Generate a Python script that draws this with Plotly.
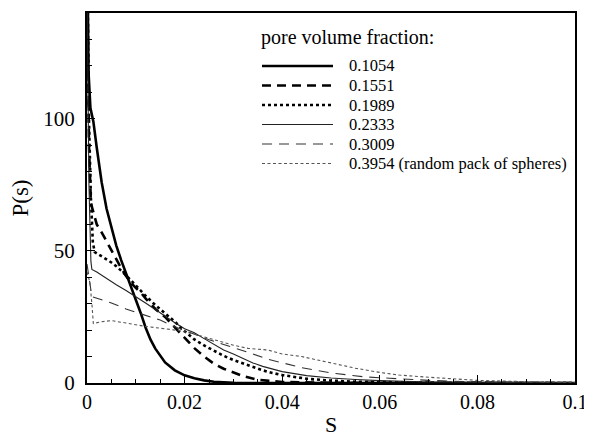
import plotly.graph_objects as go

# ---- data ----
labels = ["0.1054", "0.1551", "0.1989", "0.2333", "0.3009", "0.3954 (random pack of spheres)"]
legend_title = "pore volume fraction:"

s1 = [0, 0.0003, 0.0007, 0.0013, 0.002, 0.003, 0.004, 0.005, 0.006, 0.007, 0.008, 0.009, 0.010,
      0.011, 0.012, 0.013, 0.014, 0.015, 0.016, 0.018, 0.020, 0.022, 0.024, 0.026, 0.028, 0.030,
      0.034, 0.040, 0.060, 0.080, 0.100]
p1 = [175, 118, 104, 99, 89, 76, 66, 58.5, 52, 46.5, 41.5, 36.5, 32.3,
      26.5, 21, 16.5, 13, 10.2, 7.8, 4.8, 2.9, 1.8, 1.0, 0.5, 0.2, 0.08,
      0.02, 0, 0, 0, 0]

s2 = [0, 0.0004, 0.0008, 0.002, 0.003, 0.004, 0.005, 0.006, 0.007, 0.008, 0.009, 0.010, 0.011,
      0.012, 0.013, 0.014, 0.015, 0.016, 0.017, 0.018, 0.019, 0.020, 0.022, 0.024, 0.026, 0.028,
      0.030, 0.032, 0.035, 0.040, 0.050, 0.070, 0.100]
p2 = [170, 90, 68, 60, 57, 53.5, 50, 47, 43.5, 40.5, 38, 36, 34.3,
      32, 30, 28, 26.5, 25, 23, 21, 19, 17, 13.2, 10, 7.3, 5.4,
      3.9, 2.6, 1.2, 0.4, 0.1, 0, 0]

s3 = [0, 0.0004, 0.0008, 0.0012, 0.0016, 0.002, 0.003, 0.004, 0.005, 0.006, 0.008, 0.010, 0.012,
      0.014, 0.016, 0.018, 0.020, 0.022, 0.024, 0.026, 0.028, 0.030, 0.032, 0.034, 0.036, 0.038,
      0.040, 0.045, 0.050, 0.055, 0.060, 0.070, 0.080, 0.100]
p3 = [170, 100, 70, 53, 49.5, 49, 48, 46.8, 45.6, 44.2, 40.8, 36.8, 33,
      29.5, 26.3, 23.2, 19.6, 16.5, 14.2, 12.2, 10.3, 8.7, 7.4, 6.0, 4.8, 3.8,
      3.0, 1.6, 0.9, 0.5, 0.3, 0.1, 0.05, 0]

s4 = [0, 0.0004, 0.0008, 0.001, 0.002, 0.004, 0.006, 0.008, 0.010, 0.012, 0.014, 0.016, 0.018,
      0.020, 0.022, 0.024, 0.026, 0.028, 0.030, 0.032, 0.034, 0.036, 0.038, 0.040, 0.045, 0.050,
      0.055, 0.060, 0.070, 0.080, 0.100]
p4 = [150, 75, 46, 43, 42, 39.5, 37.2, 35, 32.8, 30.3, 27.8, 25.2, 22.8,
      20.5, 19.0, 16.8, 14.5, 12.5, 11.0, 9.2, 7.6, 6.3, 5.2, 4.3, 2.8, 1.9,
      1.3, 0.9, 0.4, 0.2, 0.05]

s5 = [0, 0.0004, 0.0008, 0.001, 0.003, 0.005, 0.008, 0.011, 0.015, 0.019, 0.022, 0.025, 0.028,
      0.031, 0.034, 0.037, 0.040, 0.044, 0.050, 0.057, 0.062, 0.070, 0.080, 0.090, 0.100]
p5 = [45, 40, 34, 32.7, 31.5, 30.3, 28, 26.2, 23.8, 20.5, 18.3, 16.4, 14.6,
      12.9, 11, 9, 7.6, 5.8, 3.8, 2.3, 1.8, 1.0, 0.4, 0.2, 0.1]

s6 = [0, 0.0006, 0.001, 0.0013, 0.003, 0.005, 0.008, 0.012, 0.016, 0.019, 0.022, 0.026, 0.030,
      0.033, 0.037, 0.040, 0.044, 0.050, 0.055, 0.060, 0.064, 0.069, 0.075, 0.080, 0.090, 0.100]
p6 = [42, 38, 30, 22.5, 23.2, 23.6, 22.7, 21.4, 20.5, 19.8, 18.5, 16.3, 14.3,
      13.1, 12.5, 11, 10, 7.6, 5.6, 4.0, 3.0, 2.3, 1.5, 1.0, 0.5, 0.3]

xticks = [0, 0.02, 0.04, 0.06, 0.08, 0.1]
xticktext = ["0", "0.02", "0.04", "0.06", "0.08", "0.1"]
yticks = [0, 50, 100]

series = [(s1, p1), (s2, p2), (s3, p3), (s4, p4), (s5, p5), (s6, p6)]
styles = [
    dict(color="black", width=2.6, dash="solid"),
    dict(color="black", width=2.6, dash="9px,6px"),
    dict(color="black", width=2.6, dash="3px,3px"),
    dict(color="#222", width=1.1, dash="solid"),
    dict(color="#333", width=1.1, dash="10px,7px"),
    dict(color="#555", width=1.1, dash="3px,2.5px"),
]

FONT = "Liberation Serif"
OFF = 8                       # page body margin of the browser
W, H = 592 - OFF, 437 - OFF
# plot box in window pixels: x 87..575, y 13..383
ML, MT = 87 - OFF, 13 - OFF
MR = W - (575 - OFF)
MB = H - (383 - OFF)
PW, PH = W - ML - MR, H - MT - MB


def px_to_paper(px, py):
    """window-pixel position -> paper coordinates"""
    return (px - OFF - ML) / PW, (H - MB - (py - OFF)) / PH


fig = go.Figure()
for (xs, ys), lab, st in zip(series, labels, styles):
    fig.add_trace(go.Scatter(x=xs, y=ys, mode="lines", name=lab, line=st,
                             showlegend=False))

# ---- hand-built legend (long line samples as in the reference) ----
shapes, annotations = [], []
lx0, lx1, tx = 262, 333, 347
row0, drow = 66, 19.5
tx_p, ty_p = px_to_paper(259, 38)
annotations.append(dict(text=legend_title, xref="paper", yref="paper", x=tx_p, y=ty_p,
                        xanchor="left", yanchor="middle", showarrow=False,
                        font=dict(family=FONT, size=20, color="black")))
for i, (lab, st) in enumerate(zip(labels, styles)):
    py = row0 + i * drow
    x0p, yp = px_to_paper(lx0, py)
    x1p, _ = px_to_paper(lx1, py)
    shapes.append(dict(type="line", xref="paper", yref="paper", x0=x0p, x1=x1p, y0=yp, y1=yp,
                       line=dict(color=st["color"], width=st["width"], dash=st["dash"])))
    txp, _ = px_to_paper(tx, py)
    annotations.append(dict(text=lab, xref="paper", yref="paper", x=txp, y=yp,
                            xanchor="left", yanchor="middle", showarrow=False,
                            font=dict(family=FONT, size=16.5, color="black")))

fig.update_layout(
    width=W, height=H,
    margin=dict(l=ML, r=MR, t=MT, b=MB),
    paper_bgcolor="white", plot_bgcolor="white",
    font=dict(family=FONT, color="black"),
    showlegend=False,
    shapes=shapes, annotations=annotations,
    xaxis=dict(
        range=[0, 0.1], tickvals=xticks, ticktext=xticktext, automargin=False,
        ticks="inside", ticklen=8, tickwidth=1.2, tickcolor="black",
        minor=dict(ticks="inside", dtick=0.005, ticklen=4, tickwidth=1, tickcolor="black", showgrid=False),
        showline=True, linewidth=2, linecolor="black", mirror=True,
        showgrid=False, zeroline=False,
        tickfont=dict(family=FONT, size=20), ticklabelstandoff=0,
        title=dict(text="S", font=dict(family=FONT, size=22), standoff=10),
    ),
    yaxis=dict(
        range=[0, 140], tickvals=yticks, automargin=False,
        ticks="inside", ticklen=8, tickwidth=1.2, tickcolor="black",
        minor=dict(ticks="inside", dtick=10, ticklen=5, tickwidth=1, tickcolor="black", showgrid=False),
        showline=True, linewidth=2, linecolor="black", mirror=True,
        showgrid=False, zeroline=False,
        tickfont=dict(family=FONT, size=21), ticklabelstandoff=6,
        title=dict(text="P(s)", font=dict(family=FONT, size=23), standoff=14),
    ),
)

fig.write_html("out.html")
